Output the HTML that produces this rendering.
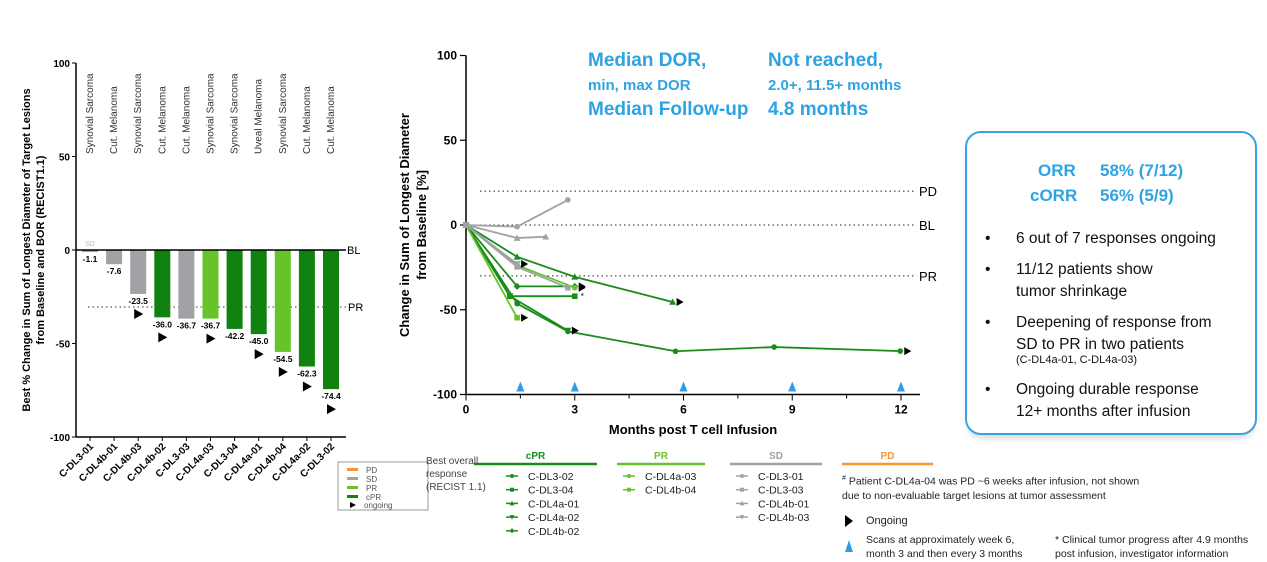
<!DOCTYPE html>
<html><head><meta charset="utf-8">
<style>
body{margin:0;width:1267px;height:562px;background:#fff;overflow:hidden;font-family:"Liberation Sans",sans-serif;position:relative}
.abs{position:absolute;white-space:nowrap}
.blue{color:#2ea3e3;font-weight:bold}
</style></head><body>
<svg id="wf" width="440" height="562" style="position:absolute;left:0;top:0"></svg>
<svg id="sp" width="1267" height="562" style="position:absolute;left:0;top:0"></svg>

<div class="abs blue" style="left:588px;top:50px;font-size:19px">Median DOR,</div>
<div class="abs blue" style="left:588px;top:77px;font-size:15px">min, max DOR</div>
<div class="abs blue" style="left:588px;top:99px;font-size:19px">Median Follow-up</div>
<div class="abs blue" style="left:768px;top:50px;font-size:19px">Not reached,</div>
<div class="abs blue" style="left:768px;top:77px;font-size:15px">2.0+, 11.5+ months</div>
<div class="abs blue" style="left:768px;top:99px;font-size:19px">4.8 months</div>

<div class="abs" style="left:965px;top:131px;width:288px;height:300px;border:2px solid #3aa2e2;border-radius:16px;box-shadow:0 6px 8px -4px #ccc"></div>
<div class="abs blue" style="left:1038px;top:161px;font-size:17px">ORR</div>
<div class="abs blue" style="left:1100px;top:161px;font-size:17px">58% (7/12)</div>
<div class="abs blue" style="left:1030px;top:186px;font-size:17px">cORR</div>
<div class="abs blue" style="left:1100px;top:186px;font-size:17px">56% (5/9)</div>
<div style="position:absolute;left:985px;top:228px;font-size:15.5px;color:#111;line-height:22px">
<div style="position:absolute;top:0;left:0">•</div><div class="abs" style="top:0;left:31px">6 out of 7 responses ongoing</div>
<div style="position:absolute;top:31px;left:0">•</div><div class="abs" style="top:31px;left:31px">11/12 patients show<br>tumor shrinkage</div>
<div style="position:absolute;top:84px;left:0">•</div><div class="abs" style="top:84px;left:31px">Deepening of response from<br>SD to PR in two patients</div>
<div class="abs" style="top:126px;left:31px;font-size:11px;line-height:12px">(C-DL4a-01, C-DL4a-03)</div>
<div style="position:absolute;top:151px;left:0">•</div><div class="abs" style="top:151px;left:31px">Ongoing durable response<br>12+ months after infusion</div>
</div>

<div class="abs" style="left:426px;top:455px;font-size:10px;color:#444;line-height:13px">Best overall<br>response<br>(RECIST 1.1)</div>
<div class="abs" style="left:842px;top:472px;font-size:10.5px;color:#222;line-height:14px"><sup style="font-size:7px">#</sup> Patient C-DL4a-04 was PD ~6 weeks after infusion, not shown<br>due to non-evaluable target lesions at tumor assessment</div>
<div class="abs" style="left:866px;top:515px;font-size:11px;color:#222">Ongoing</div>
<div class="abs" style="left:866px;top:533px;font-size:10.5px;color:#222;line-height:14px">Scans at approximately week 6,<br>month 3 and then every 3 months</div>
<div class="abs" style="left:1055px;top:533px;font-size:10.5px;color:#222;line-height:14px">* Clinical tumor progress after 4.9 months<br>post infusion, investigator information</div>

<script>
const NS="http://www.w3.org/2000/svg";
function mk(p,t,a,txt){const e=document.createElementNS(NS,t);for(const k in a)e.setAttribute(k,a[k]);if(txt!==undefined)e.textContent=txt;p.appendChild(e);return e;}
const C={cPR:"#0f820f",PR:"#66c42a",SD:"#a2a2a6",PD:"#f79433"};

/* ---------- Waterfall ---------- */
const wfPatients=["C-DL3-01","C-DL4b-01","C-DL4b-03","C-DL4b-02","C-DL3-03","C-DL4a-03","C-DL3-04","C-DL4a-01","C-DL4b-04","C-DL4a-02","C-DL3-02"];
const wfValues=[-1.1,-7.6,-23.5,-36.0,-36.7,-36.7,-42.2,-45.0,-54.5,-62.3,-74.4];
const wfBOR=["SD","SD","SD","cPR","SD","PR","cPR","cPR","PR","cPR","cPR"];
const wfOngoing=[false,false,true,true,false,true,false,true,true,true,true];
const wfTumor=["Synovial Sarcoma","Cut. Melanoma","Synovial Sarcoma","Cut. Melanoma","Cut. Melanoma","Synovial Sarcoma","Synovial Sarcoma","Uveal Melanoma","Synovial Sarcoma","Cut. Melanoma","Cut. Melanoma"];
const wfTicks=[100,50,0,-50,-100];
const wf=document.getElementById("wf");
const wy=v=>250-v*1.87, wx=i=>90+i*24.1;
mk(wf,"line",{x1:76,y1:63,x2:76,y2:437,stroke:"#000","stroke-width":1.5});
mk(wf,"line",{x1:76,y1:437,x2:346,y2:437,stroke:"#000","stroke-width":1.5});
wfTicks.forEach(t=>{mk(wf,"line",{x1:72,y1:wy(t),x2:76,y2:wy(t),stroke:"#000"});
 const e=mk(wf,"text",{x:70,y:wy(t)+4,"text-anchor":"end","font-size":10,"font-weight":"bold"},t);
 });
const yt=mk(wf,"text",{transform:"translate(30,250) rotate(-90)","text-anchor":"middle","font-size":11,"font-weight":"bold"});
mk(yt,"tspan",{x:0,dy:0},"Best % Change in Sum of Longest Diameter of Target Lesions");
mk(yt,"tspan",{x:0,dy:14},"from Baseline and BOR (RECIST1.1)");

mk(wf,"line",{x1:88,y1:307,x2:346,y2:307,stroke:"#333","stroke-dasharray":"1.5,3"});
mk(wf,"text",{x:348,y:311,"font-size":11},"PR");
wfValues.forEach((v,i)=>{
 const x=wx(i);
 const r=mk(wf,"rect",{x:x-8,y:wy(0),width:16,height:wy(v)-wy(0),fill:C[wfBOR[i]]});
 
 const l=mk(wf,"text",{x:x,y:wy(v)+10,"text-anchor":"middle","font-size":8.5,"font-weight":"bold"},v.toFixed(1));
 
 if(wfOngoing[i]){const yy=wy(v)+20;const a=mk(wf,"polygon",{points:`${x-4},${yy-5} ${x+5},${yy} ${x-4},${yy+5}`,fill:"#000"});
  }
 mk(wf,"line",{x1:x,y1:437,x2:x,y2:441,stroke:"#000"});
 const c=mk(wf,"text",{transform:`translate(${x+4},447) rotate(-45)`,"text-anchor":"end","font-size":10,"font-weight":"bold"},wfPatients[i]);
 
 const t=mk(wf,"text",{transform:`translate(${x+3},154) rotate(-90)`,"font-size":10,fill:"#333"},wfTumor[i]);
 
});
mk(wf,"line",{x1:76,y1:250,x2:346,y2:250,stroke:"#000","stroke-width":1.5});
mk(wf,"text",{x:347,y:254,"font-size":11},"BL");
mk(wf,"text",{x:90,y:246,"text-anchor":"middle","font-size":7,fill:"#bbb"},"SD");
const lg=mk(wf,"g",{});
mk(lg,"rect",{x:338,y:462,width:90,height:48,fill:"#fff",stroke:"#999"});
[["PD",C.PD],["SD",C.SD],["PR",C.PR],["cPR",C.cPR]].forEach((d,i)=>{
 mk(lg,"rect",{x:347,y:468+i*9,width:11,height:3,fill:d[1]});
 mk(lg,"text",{x:366,y:473+i*9,"font-size":8,fill:"#555"},d[0]);});
mk(lg,"polygon",{points:"350,502 356,505 350,508",fill:"#000"});
mk(lg,"text",{x:364,y:508,"font-size":8,fill:"#555"},"ongoing");

/* ---------- Spider plot ---------- */
const spNames=["C-DL3-02","C-DL3-04","C-DL4a-01","C-DL4a-02","C-DL4b-02","C-DL4a-03","C-DL4b-04","C-DL3-01","C-DL3-03","C-DL4b-01","C-DL4b-03"];
const spGroup=["cPR","cPR","cPR","cPR","cPR","PR","PR","SD","SD","SD","SD"];
const spMarker=["circle","square","tri","tridown","diamond","circle","square","circle","square","tri","tridown"];
const spMonths=[[0,1.41,2.81,5.78,8.5,11.98],[0,1.21,3.0],[0,1.41,3.0,5.7],[0,1.21,2.81],[0,1.41,3.0],[0,1.41,3.0],[0,1.41],[0,1.41,2.81],[0,1.41,2.81],[0,1.41,2.2],[0,1.41]];
const spValues=[[0,-46.4,-62.8,-74.5,-72,-74.4],[0,-42,-42],[0,-18.8,-30.6,-45.4],[0,-42,-62.3],[0,-36.2,-36.2],[0,-23.7,-37],[0,-54.7],[0,-1,14.8],[0,-24.7,-37],[0,-7.7,-6.9],[0,-23]];
const spOngoing=[true,false,true,true,true,true,true,false,false,false,true];
const spXTicks=[0,3,6,9,12];
const spYTicks=[100,50,0,-50,-100];
const scanMonths=[1.5,3,6,9,12];
const sp=document.getElementById("sp");
const X=m=>466+m*36.25, Y=v=>225-v*1.695;
mk(sp,"line",{x1:466,y1:Y(100),x2:466,y2:Y(-100),stroke:"#000","stroke-width":1.5});
mk(sp,"line",{x1:466,y1:Y(-100),x2:920,y2:Y(-100),stroke:"#000","stroke-width":1.5});
spYTicks.forEach(t=>{mk(sp,"line",{x1:460,y1:Y(t),x2:466,y2:Y(t),stroke:"#000","stroke-width":1.2});
 const e=mk(sp,"text",{x:457,y:Y(t)+4,"text-anchor":"end","font-size":12,"font-weight":"bold"},t);
 });
for(let m=0;m<=12.5;m+=1.5){mk(sp,"line",{x1:X(m),y1:Y(-100),x2:X(m),y2:Y(-100)+(m%3==0?6:4),stroke:"#000"});}
spXTicks.forEach(t=>{const e=mk(sp,"text",{x:X(t),y:Y(-100)+19,"text-anchor":"middle","font-size":12,"font-weight":"bold"},t);
 });
const xt=mk(sp,"text",{x:693,y:434,"text-anchor":"middle","font-size":13,"font-weight":"bold"},"Months post T cell Infusion");

const syt=mk(sp,"text",{transform:"translate(410,225) rotate(-90)","text-anchor":"middle","font-size":13,"font-weight":"bold"});
mk(syt,"tspan",{x:0,dy:-1},"Change in Sum of Longest Diameter");
mk(syt,"tspan",{x:0,dy:17},"from Baseline [%]");

[[20,"PD"],[0,"BL"],[-30,"PR"]].forEach(d=>{mk(sp,"line",{x1:480,y1:Y(d[0]),x2:914,y2:Y(d[0]),stroke:"#222","stroke-dasharray":"1.5,3"});
 const t=mk(sp,"text",{x:919,y:Y(d[0])+5,"font-size":13},d[1]);});
function marker(p,type,x,y,col,s){
 if(type=="circle")return mk(p,"circle",{cx:x,cy:y,r:s*0.8,fill:col});
 if(type=="square")return mk(p,"rect",{x:x-s*0.8,y:y-s*0.8,width:s*1.6,height:s*1.6,fill:col});
 if(type=="tri")return mk(p,"polygon",{points:`${x-s},${y+s*0.8} ${x+s},${y+s*0.8} ${x},${y-s}`,fill:col});
 if(type=="tridown")return mk(p,"polygon",{points:`${x-s},${y-s*0.8} ${x+s},${y-s*0.8} ${x},${y+s}`,fill:col});
 return mk(p,"polygon",{points:`${x-s},${y} ${x},${y-s} ${x+s},${y} ${x},${y+s}`,fill:col});
}
spNames.forEach((n,i)=>{
 const g=mk(sp,"g",{});
 const col=spGroup[i]=="cPR"?"#1a8c1a":C[spGroup[i]];
 const pts=spMonths[i].map((m,j)=>X(m)+","+Y(spValues[i][j])).join(" ");
 mk(g,"polyline",{points:pts,fill:"none",stroke:col,"stroke-width":1.8});
 spMonths[i].forEach((m,j)=>{const mm=marker(g,spMarker[i],X(m),Y(spValues[i][j]),col,3.5);
  });
 const L=spMonths[i].length-1,lx=X(spMonths[i][L]),ly=Y(spValues[i][L]);
 if(spOngoing[i]){const a=mk(g,"polygon",{points:`${lx+4},${ly-4} ${lx+11},${ly} ${lx+4},${ly+4}`,fill:"#000"});
  }
 if(n=="C-DL3-04")mk(g,"text",{x:lx+6,y:ly+3,"font-size":8},"*");
});
scanMonths.forEach(m=>{const t=mk(sp,"polygon",{points:`${X(m)-4},${Y(-100)-3} ${X(m)+4},${Y(-100)-3} ${X(m)},${Y(-100)-13}`,fill:"#2e9fe6"});
 });

/* ---------- Spider legend ---------- */
const legCols=[["cPR",474,597,[0,1,2,3,4]],["PR",617,705,[5,6]],["SD",730,822,[7,8,9,10]],["PD",842,933,[]]];
legCols.forEach(c=>{
 const g=mk(sp,"g",{});
 const col=c[0]=="cPR"?"#1a8c1a":C[c[0]];
 mk(g,"text",{x:(c[1]+c[2])/2,y:459,"text-anchor":"middle","font-size":10,"font-weight":"bold",fill:col},c[0]);
 mk(g,"line",{x1:c[1],y1:464,x2:c[2],y2:464,stroke:col,"stroke-width":2.5});
 c[3].forEach((si,k)=>{const y=476+k*13.7,mx=c[1]+ (c[0]=="SD"?12:c[0]=="PR"?12:38);
  const e=mk(g,"g",{});
  mk(e,"line",{x1:mx-6,y1:y,x2:mx+6,y2:y,stroke:col,"stroke-width":1.5});
  marker(e,spMarker[si],mx,y,col,2.5);
  mk(e,"text",{x:mx+16,y:y+4,"font-size":10.5,fill:"#222"},spNames[si]);});
});
const oa=mk(sp,"polygon",{points:"845,515 853,521 845,527",fill:"#000"});
const sa=mk(sp,"polygon",{points:"845,552 853,552 849,540",fill:"#2e9fe6"});
</script>
</body></html>
